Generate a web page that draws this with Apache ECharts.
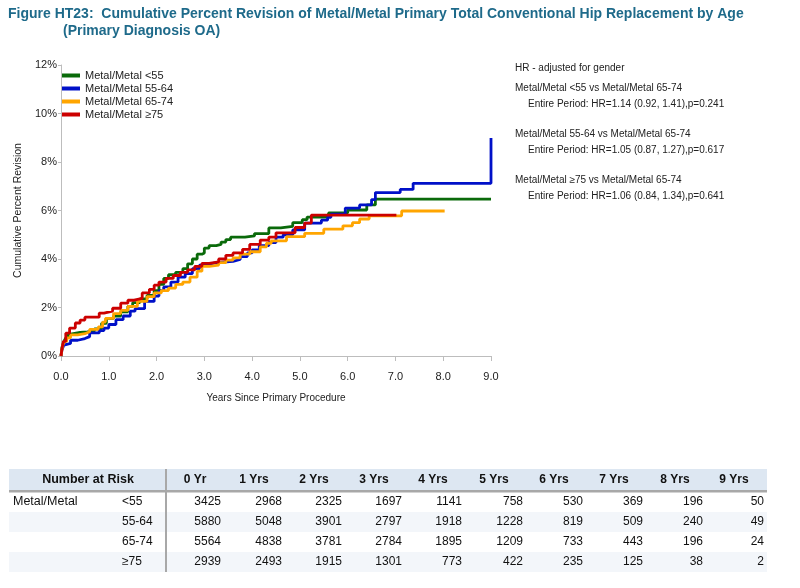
<!DOCTYPE html>
<html><head><meta charset="utf-8">
<script src="https://cdn.jsdelivr.net/npm/echarts@6/dist/echarts.min.js"></script>
<style>html,body{margin:0;padding:0;background:#fff}#c{width:800px;height:588px}</style>
</head><body><div id="c"></div>
<script>
const titleLine1 = 'Figure HT23:  Cumulative Percent Revision of Metal/Metal Primary Total Conventional Hip Replacement by Age';
const titleLine2 = '(Primary Diagnosis OA)';
const seriesNames = ['Metal/Metal <55', 'Metal/Metal 55-64', 'Metal/Metal 65-74', 'Metal/Metal \u226575'];
const seriesColors = ['#0a6a0a', '#0010c8', '#ffa500', '#cc0000'];

const cprLt55 = [[0,0],[0.02,0.35],[0.06,0.6],[0.1,0.75],[0.15,0.9],[0.2,0.97],[0.4,0.99],[0.55,1.03],[0.7,1.12],[0.85,1.35],[0.95,1.55],[1.1,1.65],[1.25,1.82],[1.4,2.05],[1.5,2.2],[1.65,2.35],[1.8,2.5],[1.95,2.7],[2.05,2.95],[2.15,3.2],[2.25,3.35],[2.4,3.45],[2.55,3.6],[2.65,3.8],[2.75,4.0],[2.85,4.2],[2.95,4.25],[3.0,4.45],[3.1,4.55],[3.25,4.6],[3.35,4.7],[3.45,4.8],[3.55,4.9],[3.85,4.95],[4.05,5.05],[4.35,5.28],[4.6,5.35],[4.85,5.5],[5.05,5.62],[5.15,5.73],[5.6,5.9],[6.0,6.02],[6.4,6.23],[6.58,6.47],[9.0,6.47]];
const cpr55_64 = [[0,0],[0.02,0.25],[0.06,0.45],[0.1,0.52],[0.2,0.65],[0.35,0.72],[0.5,0.8],[0.6,0.95],[0.8,1.05],[0.9,1.15],[1.0,1.3],[1.15,1.5],[1.3,1.65],[1.45,1.85],[1.55,1.95],[1.75,2.25],[1.95,2.47],[2.05,2.7],[2.15,2.85],[2.3,3.05],[2.45,3.25],[2.6,3.4],[2.75,3.6],[2.9,3.75],[3.0,3.83],[3.2,3.87],[3.4,3.9],[3.6,3.98],[3.75,4.1],[3.9,4.25],[4.0,4.38],[4.15,4.55],[4.35,4.68],[4.5,4.9],[4.65,5.0],[4.85,5.2],[5.1,5.48],[5.45,5.6],[5.58,5.72],[5.65,5.85],[5.95,6.1],[6.25,6.23],[6.5,6.45],[6.58,6.74],[7.1,6.87],[7.37,7.12],[9.0,7.12],[9.0,8.99]];
const cpr65_74 = [[0,0],[0.03,0.4],[0.07,0.6],[0.12,0.75],[0.2,0.87],[0.35,0.92],[0.5,1.0],[0.6,1.1],[0.78,1.2],[0.87,1.4],[0.93,1.55],[1.1,1.75],[1.25,1.88],[1.4,2.05],[1.6,2.25],[1.8,2.45],[1.95,2.6],[2.1,2.7],[2.25,2.8],[2.4,2.95],[2.55,3.05],[2.7,3.25],[2.85,3.5],[2.95,3.7],[3.1,3.75],[3.3,3.85],[3.45,3.95],[3.6,4.05],[3.75,4.2],[3.95,4.3],[4.17,4.5],[4.3,4.65],[4.4,4.75],[4.72,4.92],[5.1,5.06],[5.5,5.23],[5.9,5.37],[6.1,5.5],[6.25,5.65],[6.45,5.78],[7.13,5.98],[8.03,5.98]];
const cpr75 = [[0,0],[0.02,0.3],[0.05,0.6],[0.1,0.94],[0.18,1.15],[0.3,1.36],[0.4,1.48],[0.5,1.6],[0.8,1.77],[0.9,1.85],[1.08,1.97],[1.25,2.18],[1.4,2.3],[1.53,2.38],[1.7,2.6],[1.85,2.75],[1.95,2.92],[2.05,3.05],[2.2,3.2],[2.35,3.32],[2.5,3.45],[2.65,3.55],[2.8,3.7],[2.95,3.82],[3.1,3.88],[3.3,4.0],[3.45,4.15],[3.6,4.25],[3.8,4.4],[3.95,4.6],[4.17,4.78],[4.35,4.9],[4.5,5.08],[4.9,5.3],[5.1,5.48],[5.24,5.81],[7.02,5.81]];
const seriesData = [cprLt55, cpr55_64, cpr65_74, cpr75];

const xTickLabels = ['0.0','1.0','2.0','3.0','4.0','5.0','6.0','7.0','8.0','9.0'];

const hrHeader = 'HR - adjusted for gender';
const hrComparisons = ['Metal/Metal <55 vs Metal/Metal 65-74', 'Metal/Metal 55-64 vs Metal/Metal 65-74', 'Metal/Metal \u226575 vs Metal/Metal 65-74'];
const hrResults = ['Entire Period: HR=1.14 (0.92, 1.41),p=0.241', 'Entire Period: HR=1.05 (0.87, 1.27),p=0.617', 'Entire Period: HR=1.06 (0.84, 1.34),p=0.641'];

const riskHeaders = ['0 Yr','1 Yrs','2 Yrs','3 Yrs','4 Yrs','5 Yrs','6 Yrs','7 Yrs','8 Yrs','9 Yrs'];
const riskGroupLabel = 'Metal/Metal';
const riskGroups = ['<55','55-64','65-74','\u226575'];
const riskLt55 = [3425,2968,2325,1697,1141,758,530,369,196,50];
const risk55_64 = [5880,5048,3901,2797,1918,1228,819,509,240,49];
const risk65_74 = [5564,4838,3781,2784,1895,1209,733,443,196,24];
const risk75 = [2939,2493,1915,1301,773,422,235,125,38,2];
const riskRows = [riskLt55, risk55_64, risk65_74, risk75];

const FONT = 'Liberation Sans';
const chart = echarts.init(document.getElementById('c'), null, {renderer: 'canvas'});

const graphics = [];
graphics.push({type:'text', left: 8, top: 7, style:{text: titleLine1, font: 'bold 14px "Liberation Sans"', fill:'#1e6a8a'}});
graphics.push({type:'text', left: 63, top: 24, style:{text: titleLine2, font: 'bold 14px "Liberation Sans"', fill:'#1e6a8a'}});
// HR text
graphics.push({type:'text', left: 515, top: 63, style:{text: hrHeader, font:'10px "Liberation Sans"', fill:'#222'}});
const hrY = [83, 129, 175];
hrComparisons.forEach((t,i)=>{
  graphics.push({type:'text', left: 515, top: hrY[i], style:{text: t, font:'10px "Liberation Sans"', fill:'#222'}});
  graphics.push({type:'text', left: 528, top: hrY[i]+16, style:{text: hrResults[i], font:'10px "Liberation Sans"', fill:'#222'}});
});
// table
const tX0 = 9, tX1 = 767;
graphics.push({type:'rect', shape:{x:tX0, y:469, width:tX1-tX0, height:21}, style:{fill:'#dde7f2'}});
[1,3].forEach(r=>{
  graphics.push({type:'rect', shape:{x:tX0, y:492+r*20, width:tX1-tX0, height:20}, style:{fill:'#f3f6fa'}});
});
graphics.push({type:'rect', shape:{x:tX0, y:490, width:tX1-tX0, height:2.5}, style:{fill:'#a8a8a8'}});
graphics.push({type:'rect', shape:{x:165, y:469, width:2, height:103}, style:{fill:'#a8a8a8'}});
graphics.push({type:'text', x: 88, y: 480, style:{text:'Number at Risk', font:'bold 12.5px "Liberation Sans"', fill:'#111', align:'center', verticalAlign:'middle'}});
const colRight = [221,282,342,402,462,523,583,643,703,764];
const colHeadCenter = [195,254,314,374,433,494,554,614,675,734];
riskHeaders.forEach((h,i)=>{
  graphics.push({type:'text', x: colHeadCenter[i], y: 480, style:{text:h, font:'bold 12px "Liberation Sans"', fill:'#111', align:'center', verticalAlign:'middle'}});
});
graphics.push({type:'text', x: 13, y: 502, style:{text:riskGroupLabel, font:'12.5px "Liberation Sans"', fill:'#111', verticalAlign:'middle'}});
riskGroups.forEach((g,r)=>{
  const y = 502 + r*20;
  graphics.push({type:'text', x: 122, y: y, style:{text:g, font:'12px "Liberation Sans"', fill:'#111', verticalAlign:'middle'}});
  riskRows[r].forEach((v,i)=>{
    graphics.push({type:'text', x: colRight[i], y: y, style:{text:String(v), font:'12px "Liberation Sans"', fill:'#111', align:'right', verticalAlign:'middle'}});
  });
});

const option = {
  animation: false,
  backgroundColor: '#fff',
  textStyle: {fontFamily: FONT},
  legend: {
    orient: 'vertical', left: 62, top: 69, padding: 0, itemGap: 0,
    itemWidth: 18, itemHeight: 4, icon: 'rect',
    textStyle: {fontSize: 11, color: '#222', lineHeight: 13, fontFamily: FONT},
    data: seriesNames.map((n,i)=>({name:n, itemStyle:{color:seriesColors[i]}}))
  },
  grid: {left: 61, right: 309, top: 65, bottom: 232, containLabel: false},
  xAxis: {
    type: 'value', min: 0, max: 9, interval: 1,
    name: 'Years Since Primary Procedure', nameLocation: 'middle', nameGap: 37,
    nameTextStyle: {fontSize: 10, color: '#222', fontFamily: FONT},
    axisLine: {show: true, lineStyle: {color: '#bdbdbd', width: 1}},
    axisTick: {show: true, length: 5, inside: false, lineStyle: {color: '#bdbdbd'}},
    splitLine: {show: false},
    axisLabel: {fontSize: 11, color: '#222', margin: 15, formatter: v => xTickLabels[Math.round(v)] || ''}
  },
  yAxis: {
    type: 'value', min: 0, max: 12, interval: 2,
    name: 'Cumulative Percent Revision', nameLocation: 'middle', nameGap: 35,
    nameTextStyle: {fontSize: 10.5, color: '#222', fontFamily: FONT},
    axisLine: {show: true, lineStyle: {color: '#bdbdbd', width: 1}},
    axisTick: {show: true, length: 3, lineStyle: {color: '#bdbdbd'}},
    splitLine: {show: false},
    axisLabel: {fontSize: 11, color: '#222', margin: 4, formatter: '{value}%'}
  },
  series: seriesNames.map((n,i)=>({
    name: n, type: 'line', step: 'end', data: seriesData[i], showSymbol: false, symbol: 'none',
    lineStyle: {color: seriesColors[i], width: 2.8}, itemStyle: {color: seriesColors[i]}, z: 2+i
  })),
  graphic: graphics
};
chart.setOption(option);
</script></body></html>
